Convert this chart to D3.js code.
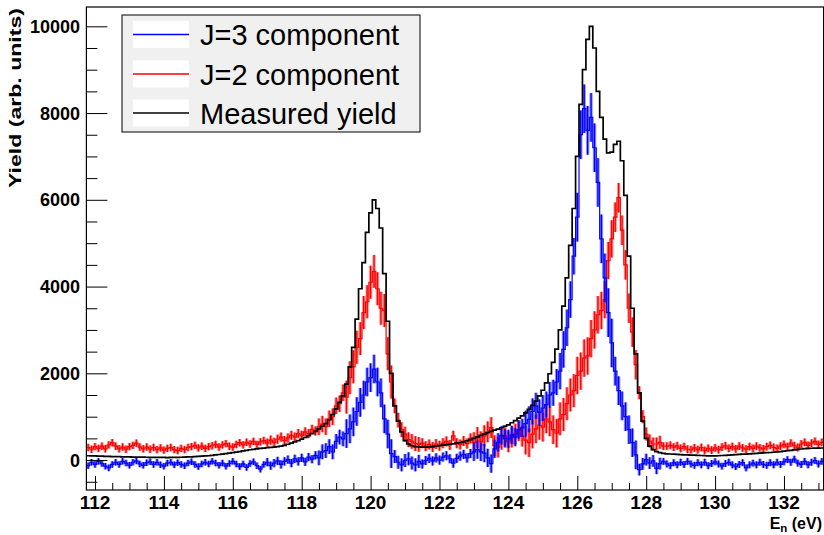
<!DOCTYPE html>
<html>
<head>
<meta charset="utf-8">
<script src="https://cdn.jsdelivr.net/npm/d3@7"></script>
<style>
  body { margin: 0; background: #fff; }
  svg { display: block; }
  text { font-family: "Liberation Sans", Arial, Helvetica, sans-serif; }
</style>
</head>
<body>
<svg id="chart" width="824" height="535"></svg>
<script>
// Histogram binning (eV)
const binStart = 111.75;
const binWidth = 0.1;

// Measured yield, one value per 0.1 eV bin
const measured = [
  100,95,95,90,90,85,85,80,80,78,
  75,75,72,70,70,68,66,65,63,62,
  60,60,60,58,60,62,63,65,68,72,
  75,80,85,90,95,100,108,118,128,138,
  148,158,170,182,195,210,225,238,248,258,
  268,276,284,292,300,310,322,340,365,392,
  420,448,480,520,565,610,660,720,780,840,
  930,1050,1180,1330,1480,1750,2150,2600,3250,3950,
  4550,5250,5700,6000,5800,5350,4300,3200,2000,1250,
  900,650,450,370,330,310,305,300,300,305,
  310,320,335,345,355,365,375,390,405,420,
  445,470,500,535,570,600,630,660,690,715,
  745,780,810,860,910,965,1020,1090,1170,1260,
  1360,1480,1610,1780,1990,2250,2560,3000,3550,4200,
  4950,5800,7000,8200,9000,9700,10000,9500,8500,7900,
  7400,7080,7100,7280,7350,6900,6100,4700,3500,2450,
  1550,900,500,320,240,195,170,155,145,140,
  135,130,125,120,118,115,112,110,105,100,
  98,95,95,100,105,110,115,120,125,130,
  135,138,142,148,155,160,165,170,175,180,
  188,195,205,215,225,235,245,255,262,268,
  272,275,275,278
];

// J=2 component
const j2 = [
  290,250,310,270,320,260,350,400,320,260,
  300,250,310,340,390,300,260,300,250,290,
  240,280,230,270,290,240,220,270,240,290,
  310,340,280,320,270,310,330,360,300,350,
  380,320,300,360,400,350,410,370,430,360,
  420,450,390,460,410,480,530,450,510,570,
  530,610,570,650,610,710,670,770,830,770,
  950,1000,1250,1300,1550,1450,1900,2150,2600,2800,
  3400,3650,4100,4350,3950,3500,3450,2450,1800,1250,
  920,700,600,470,430,380,360,390,320,360,
  300,370,330,390,430,350,560,390,360,440,
  380,500,400,520,420,560,650,750,330,300,
  480,560,420,530,600,680,550,460,400,600,
  720,800,760,950,880,700,620,950,1050,1300,
  1500,1600,1950,2050,2350,2400,2800,3000,3350,3450,
  3700,4600,5100,5600,6050,5300,4500,3500,2950,2200,
  1550,1000,600,440,370,370,410,320,320,340,
  300,330,270,310,250,240,280,240,290,220,
  270,230,280,240,300,330,270,310,260,320,
  280,250,310,270,320,280,260,310,340,290,
  270,320,360,310,390,330,290,370,410,340,
  390,430,360,410
];

// J=3 component
const j3 = [
  -130,-50,-100,-30,-80,-140,-180,-100,-50,-100,
  -30,-70,-120,-50,-20,-90,-120,-60,-40,-100,
  -50,-110,-140,-70,-50,-110,-60,-100,-130,-70,
  -40,-100,-150,-90,-50,-90,-30,-70,-120,-70,
  -140,-80,-30,-90,-150,-90,-170,-80,-40,-130,
  -210,-100,-50,-130,-70,-20,-100,-30,10,-70,
  30,-30,50,-40,70,20,110,50,190,220,
  310,190,430,530,490,610,720,880,1120,1330,
  1500,1800,1900,2100,1800,1550,950,600,150,80,
  -50,-110,-10,30,-70,-110,-30,-90,-10,40,
  -20,50,0,70,100,30,-70,40,90,130,
  50,150,190,240,190,160,50,-80,260,410,
  570,500,490,580,530,700,740,840,940,1120,
  1250,1100,1200,1280,1500,1550,1800,2050,2550,3050,
  3700,4700,5600,7500,8100,7600,7900,7200,6400,5100,
  4200,3400,2700,2050,1600,1250,1000,700,400,120,
  -220,-90,10,-70,-20,-190,-80,-30,-90,-130,
  -60,-110,-50,-100,-30,-90,-120,-60,-110,-50,
  -130,-80,-40,-90,-140,-80,-50,-110,-150,-100,
  -60,-180,-110,-70,-110,-50,-100,-120,-60,-110,
  -50,-100,-40,10,-50,20,-70,-100,-30,-110,
  -50,-10,-90,-30
];

// Statistical uncertainty of the components, per energy segment
const errEdges = [111.75, 117, 118.5, 119.3, 120.7, 121.5, 123, 124.5, 125.5, 126, 127.1, 127.8, 128.5, 133.15];
const j2Err = [85, 105, 190, 380, 170, 115, 240, 330, 380, 430, 340, 150, 90];
const j3Err = [75, 95, 170, 330, 150, 105, 210, 300, 420, 560, 330, 135, 80];

// Axes
const xMajorTicks = [112,114,116,118,120,122,124,126,128,130,132];
const yMajorTicks = [0,2000,4000,6000,8000,10000];
const xDomain = [111.75, 133.15];
const yDomain = [-690, 10445];

const legendLabels = ["J=3 component", "J=2 component", "Measured yield"];
const legendColors = ["#0000ff", "#ff0000", "#000000"];

const svg = d3.select("#chart");
const x = d3.scaleLinear().domain(xDomain).range([86.4, 823.6]);
const y = d3.scaleLinear().domain(yDomain).range([490, 7]);

svg.append("defs").append("clipPath").attr("id", "plotClip")
  .append("rect")
  .attr("x", x(xDomain[0])).attr("y", y(yDomain[1]))
  .attr("width", x(xDomain[1]) - x(xDomain[0]))
  .attr("height", y(yDomain[0]) - y(yDomain[1]));

const bins = measured.map((v, i) => ({ lo: binStart + i * binWidth, hi: binStart + (i + 1) * binWidth }));
function segErr(errs, e) {
  const k = Math.min(errs.length - 1, Math.max(0, d3.bisectRight(errEdges, e) - 1));
  return errs[k];
}

const plot = svg.append("g").attr("clip-path", "url(#plotClip)");

function drawComponent(values, errs, color) {
  const g = plot.append("g");
  const pts = values.map((v, i) => {
    const c = (bins[i].lo + bins[i].hi) / 2;
    return { lo: bins[i].lo, hi: bins[i].hi, c, v, e: segErr(errs, c) };
  });
  // error band per bin
  g.selectAll("rect.err").data(pts).join("rect")
    .attr("class", "err")
    .attr("x", d => x(d.lo))
    .attr("width", d => x(d.hi) - x(d.lo))
    .attr("y", d => y(d.v + d.e))
    .attr("height", d => y(d.v - d.e) - y(d.v + d.e))
    .attr("fill", color).attr("fill-opacity", 0.4);
  // error bar line at bin centre
  g.selectAll("line.bar").data(pts).join("line")
    .attr("class", "bar")
    .attr("x1", d => x(d.c)).attr("x2", d => x(d.c))
    .attr("y1", d => y(d.v + d.e)).attr("y2", d => y(d.v - d.e))
    .attr("stroke", color).attr("stroke-width", 1.4);
  // bin contents
  const stepPts = pts.map(d => [d.lo, d.v]);
  stepPts.push([pts[pts.length - 1].hi, pts[pts.length - 1].v]);
  g.append("path")
    .attr("d", d3.line().x(d => x(d[0])).y(d => y(d[1])).curve(d3.curveStepAfter)(stepPts))
    .attr("fill", "none").attr("stroke", color).attr("stroke-width", 1.2);
}

drawComponent(j2, j2Err, "#ff0000");
drawComponent(j3, j3Err, "#0000ff");

// measured yield as a step histogram
const mPts = measured.map((v, i) => [bins[i].lo, v]);
mPts.push([bins[bins.length - 1].hi, measured[measured.length - 1]]);
plot.append("path")
  .attr("d", d3.line().x(d => x(d[0])).y(d => y(d[1])).curve(d3.curveStepAfter)(mPts))
  .attr("fill", "none").attr("stroke", "#000").attr("stroke-width", 1.7);

// frame
svg.append("rect")
  .attr("x", x(xDomain[0])).attr("y", y(yDomain[1]))
  .attr("width", x(xDomain[1]) - x(xDomain[0]))
  .attr("height", y(yDomain[0]) - y(yDomain[1]))
  .attr("fill", "none").attr("stroke", "#000").attr("stroke-width", 1.2);

// x axis: ticks point into the frame
const xAxis = d3.axisBottom(x)
  .tickValues(d3.range(112, 133.01, 0.5))
  .tickSize(-7).tickPadding(0).tickFormat("");
const gx = svg.append("g").attr("transform", `translate(0,${y(yDomain[0])})`).call(xAxis);
gx.select(".domain").remove();
gx.selectAll(".tick line").attr("stroke", "#000").attr("stroke-width", 1)
  .filter(d => xMajorTicks.includes(Math.round(d * 100) / 100)).attr("y2", -14);
svg.append("g").selectAll("text").data(xMajorTicks).join("text")
  .attr("x", d => x(d)).attr("y", 508.5)
  .attr("text-anchor", "middle")
  .attr("font-size", 19).attr("font-weight", "bold")
  .text(d => d);

// y axis
const yAxis = d3.axisLeft(y)
  .tickValues(d3.range(-500, 10001, 500))
  .tickSize(-11).tickPadding(0).tickFormat("");
const gy = svg.append("g").attr("transform", `translate(${x(xDomain[0])},0)`).call(yAxis);
gy.select(".domain").remove();
gy.selectAll(".tick line").attr("stroke", "#000").attr("stroke-width", 1)
  .filter(d => yMajorTicks.includes(d)).attr("x2", 21);
svg.append("g").selectAll("text").data(yMajorTicks).join("text")
  .attr("x", 80).attr("y", d => y(d) + 6.5)
  .attr("text-anchor", "end")
  .attr("font-size", 18).attr("font-weight", "bold")
  .text(d => d);

// axis titles
const xt = svg.append("text")
  .attr("x", 822).attr("y", 528.5)
  .attr("text-anchor", "end")
  .attr("font-size", 16).attr("font-weight", "bold");
xt.append("tspan").text("E");
xt.append("tspan").attr("font-size", 11.5).attr("dy", 3.5).text("n");
xt.append("tspan").attr("dy", -3.5).text(" (eV)");

svg.append("text")
  .attr("transform", "translate(21,8) rotate(-90)")
  .attr("text-anchor", "end")
  .attr("font-size", 17).attr("font-weight", "bold")
  .attr("textLength", 180).attr("lengthAdjust", "spacingAndGlyphs")
  .text("Yield (arb. units)");

// legend
const lg = svg.append("g");
lg.append("rect").attr("x", 122).attr("y", 15).attr("width", 298).attr("height", 117)
  .attr("fill", "#f0f0f0").attr("stroke", "#000").attr("stroke-width", 1);
const rowY = [34.5, 74, 113];
legendLabels.forEach((lab, i) => {
  lg.append("rect").attr("x", 133).attr("y", rowY[i] - 13.5).attr("width", 56).attr("height", 27)
    .attr("fill", "#fff");
  lg.append("line").attr("x1", 133).attr("x2", 189).attr("y1", rowY[i]).attr("y2", rowY[i])
    .attr("stroke", legendColors[i]).attr("stroke-width", 1.3);
  lg.append("text").attr("x", 200).attr("y", rowY[i] + 10.5)
    .attr("font-size", 29).text(lab);
});
</script>
</body>
</html>
